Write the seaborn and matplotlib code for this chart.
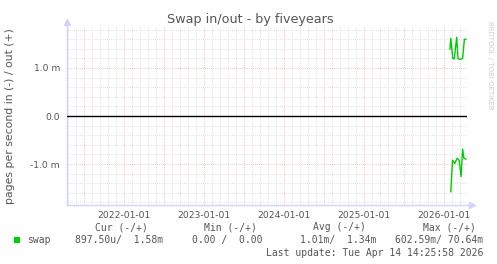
import numpy as np
import pandas as pd
import matplotlib
matplotlib.use("Agg")
import matplotlib.pyplot as plt
import seaborn as sns
from matplotlib.ticker import MultipleLocator, FuncFormatter, FixedLocator
from matplotlib.patches import Rectangle

# ---- data (milli pages per second) ----
out_dates = ["2026-01-28", "2026-02-01", "2026-02-10", "2026-02-17", "2026-02-28",
             "2026-03-06", "2026-03-17", "2026-03-27", "2026-04-04", "2026-04-12"]
out_values = [1.39, 1.62, 1.20, 1.19, 1.64, 1.19, 1.18, 1.20, 1.60, 1.60]

in_dates = ["2026-02-01", "2026-02-09", "2026-02-19", "2026-03-02", "2026-03-11",
            "2026-03-20", "2026-03-27", "2026-04-02", "2026-04-12"]
in_values = [-1.58, -0.92, -0.99, -0.88, -0.92, -1.26, -0.69, -0.88, -0.90]

x_tick_years = [2022, 2023, 2024, 2025, 2026]
x_tick_labels = ["2022-01-01", "2023-01-01", "2024-01-01", "2025-01-01", "2026-01-01"]

legend_headers = ["Cur (-/+)", "Min (-/+)", "Avg (-/+)", "Max (-/+)"]
legend_values = ["897.50u/  1.58m", "0.00 /  0.00", "1.01m/  1.34m", "602.59m/ 70.64m"]
last_update = "Last update: Tue Apr 14 14:25:58 2026"


def decimal_year(dates):
    d = pd.to_datetime(pd.Series(dates))
    days = np.where(d.dt.is_leap_year, 366.0, 365.0)
    return d.dt.year + (d.dt.dayofyear - 1) / days


df_out = pd.DataFrame({"t": decimal_year(out_dates), "v": out_values})
df_in = pd.DataFrame({"t": decimal_year(in_dates), "v": in_values})

sns.set_style("white")
plt.rcParams["font.family"] = ["DejaVu Sans"]

W, H = 497, 264
fig = plt.figure(figsize=(W / 100, H / 100), dpi=100)
fig.patch.set_facecolor("white")

def fx(px):
    return px / W

def fy(py):
    return 1 - py / H

left, right, top, bottom = 67, 467, 27, 205
ax = fig.add_axes([fx(left), fy(bottom), (right - left) / W, (bottom - top) / H])
ax.set_facecolor("white")

green = "#00cc00"
axis_col = "#d0d4f8"
text_col = "#555555"

ax.set_xlim(2021.2875, 2026.2875)
ax.set_ylim(-1.854, 1.854)

# grids
ax.xaxis.set_minor_locator(MultipleLocator(0.1))
ax.xaxis.set_major_locator(MultipleLocator(0.5))
ax.yaxis.set_minor_locator(MultipleLocator(0.2))
ax.yaxis.set_major_locator(FixedLocator([-1.0, 0.0, 1.0]))
ax.grid(which="minor", color="#d8d8d8", linestyle=(0, (1, 1.5)), linewidth=0.6)
ax.grid(which="major", color="#eeb0b0", linestyle=(0, (1, 1.5)), linewidth=0.6)

def xfmt(v, pos):
    if abs(v - round(v)) < 1e-6 and int(round(v)) in x_tick_years:
        return x_tick_labels[x_tick_years.index(int(round(v)))]
    return ""

def yfmt(v, pos):
    if abs(v) < 1e-9:
        return "0.0"
    return f"{v:.1f} m"

ax.xaxis.set_major_formatter(FuncFormatter(xfmt))
ax.yaxis.set_major_formatter(FuncFormatter(yfmt))
ax.tick_params(axis="both", which="both", length=2, width=0.6, colors="#eeb0b0",
               labelcolor=text_col, labelsize=6.6, pad=3)
ax.tick_params(axis="both", which="minor", colors="#cccccc")
ax.tick_params(axis="x", pad=2)

for s in ["top", "right"]:
    ax.spines[s].set_visible(False)
for s in ["left", "bottom"]:
    ax.spines[s].set_color(axis_col)
    ax.spines[s].set_linewidth(1.0)

# arrows
ax.plot([0, 0], [1.0, 1.02], transform=ax.transAxes, color=axis_col, lw=1.0, clip_on=False)
ax.plot([0], [1.03], marker="^", ms=4, color=axis_col, transform=ax.transAxes, clip_on=False)
ax.plot([1.0, 1.008], [0, 0], transform=ax.transAxes, color=axis_col, lw=1.0, clip_on=False)
ax.plot([1.012], [0], marker=">", ms=4, color=axis_col, transform=ax.transAxes, clip_on=False)

# zero rule
ax.axhline(0, color="black", lw=1.0, zorder=3)

# data
sns.lineplot(data=df_out, x="t", y="v", color=green, lw=1.0, ax=ax, estimator=None, zorder=4)
sns.lineplot(data=df_in, x="t", y="v", color=green, lw=1.0, ax=ax, estimator=None, zorder=4)
ax.set_xlabel("")
ax.set_ylabel("")

# titles / labels
fig.text(fx(250), fy(20), "Swap in/out - by fiveyears", ha="center", va="center",
         fontsize=9.2, color=text_col)
fig.text(fx(10), fy(116), "pages per second in (-) / out (+)", rotation=90,
         ha="center", va="center", fontsize=7.8, color=text_col)
fig.text(fx(490), fy(65), "RRDTOOL / TOBI OETIKER", rotation=270, ha="center",
         va="center", fontsize=5.0, color="#cccccc")

# legend
mono = "DejaVu Sans Mono"
lfs = 7.0
for hx, h in zip([95, 204, 313, 423], legend_headers):
    fig.text(fx(hx), fy(227), h, ha="left", va="center", fontsize=lfs,
             family=mono, color=text_col)
fig.patches.append(Rectangle((fx(14), fy(243)), 6 / W, 6 / H, transform=fig.transFigure,
                             facecolor=green, edgecolor="none", figure=fig))
fig.text(fx(27), fy(240), "swap", ha="left", va="center", fontsize=lfs,
         family=mono, color=text_col)
for vx, v in zip([163, 263, 376, 483], legend_values):
    fig.text(fx(vx), fy(240), v, ha="right", va="center", fontsize=lfs,
             family=mono, color=text_col)
fig.text(fx(483), fy(253), last_update, ha="right", va="center", fontsize=lfs,
         family=mono, color=text_col)

fig.savefig("out.png", dpi=100, facecolor="white")
